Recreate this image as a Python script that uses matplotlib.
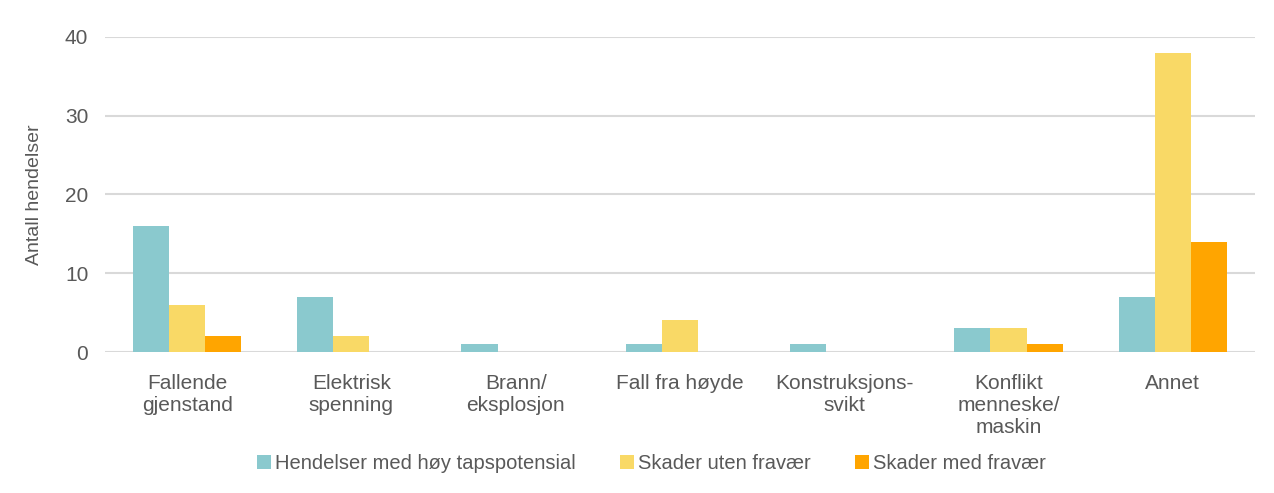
import matplotlib.pyplot as plt
import numpy as np

# Categories and series
categories = ["Fallende\ngjenstand", "Elektrisk\nspenning", "Brann/\neksplosjon",
              "Fall fra høyde", "Konstruksjons-\nsvikt", "Konflikt\nmenneske/\nmaskin", "Annet"]
series_names = ["Hendelser med høy tapspotensial", "Skader uten fravær", "Skader med fravær"]
hoy_tap = [16, 7, 1, 1, 1, 3, 7]
uten_fravaer = [6, 2, 0, 4, 0, 3, 38]
med_fravaer = [2, 0, 0, 0, 0, 1, 14]
colors = ["#8AC9CE", "#F9D966", "#FFA500"]

plt.rcParams['font.family'] = ['Liberation Sans', 'DejaVu Sans']
text_color = "#595959"

fig = plt.figure(figsize=(12.74, 4.93), dpi=100)
ax = fig.add_axes([0.0824, 0.286, 0.9026, 0.639])

x = np.arange(len(categories))
w = 0.22
for i, (vals, name) in enumerate(zip([hoy_tap, uten_fravaer, med_fravaer], series_names)):
    ax.bar(x + (i - 1) * w, vals, width=w, color=colors[i], label=name, zorder=3)

ax.set_xlim(-0.5, len(categories) - 0.5)
ax.set_ylim(0, 40)
ax.set_yticks([0, 10, 20, 30, 40])
ax.grid(axis='y', color="#D9D9D9", linewidth=1.5, zorder=0)
for s in ax.spines.values():
    s.set_visible(False)
ax.tick_params(axis='y', length=0, labelsize=15, colors=text_color, pad=12)
ax.set_xticks(x)
ax.set_xticklabels(categories, va='top', linespacing=1.2)
ax.tick_params(axis='x', length=0, labelsize=15, colors=text_color, pad=16)
ax.set_ylabel("Antall hendelser", fontsize=14, color=text_color, labelpad=16)

ax.legend(loc='center', bbox_to_anchor=(0.475, -0.355), ncol=3, frameon=False,
          fontsize=14.5, labelcolor=text_color, handlelength=0.7, handleheight=0.7,
          handletextpad=0.2, columnspacing=2.2)

fig.savefig("out.png", dpi=100)
